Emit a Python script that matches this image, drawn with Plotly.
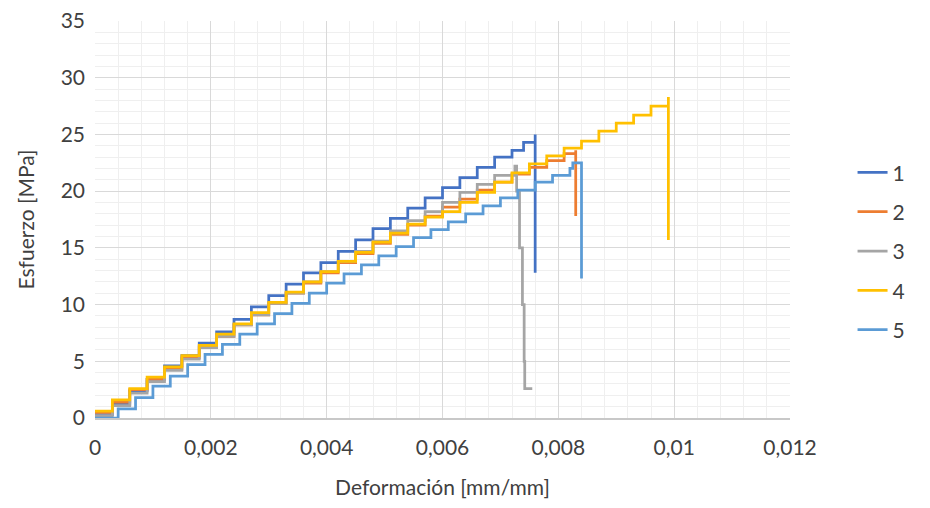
import plotly.graph_objects as go

# ---- data (strain [mm/mm], stress [MPa]) ----
x1 = [0, 0.0003, 0.0006, 0.0009, 0.0012, 0.0015, 0.0018, 0.0021, 0.0024, 0.0027, 0.0030,
      0.0033, 0.0036, 0.0039, 0.0042, 0.0045, 0.0048, 0.0051, 0.0054, 0.0057, 0.0060,
      0.0063, 0.0066, 0.0069, 0.0072, 0.0074, 0.0076, 0.0076]
y1 = [0.3, 1.2, 2.4, 3.4, 4.6, 5.5, 6.6, 7.6, 8.7, 9.8, 10.8,
      11.8, 12.8, 13.7, 14.7, 15.7, 16.7, 17.6, 18.5, 19.4, 20.3,
      21.2, 22.1, 23.0, 23.6, 24.3, 25.0, 12.8]

x2 = [0, 0.0003, 0.0006, 0.0009, 0.0012, 0.0015, 0.0018, 0.0021, 0.0024, 0.0027, 0.0030,
      0.0033, 0.0036, 0.0039, 0.0042, 0.0045, 0.0048, 0.0051, 0.0054, 0.0057, 0.0060,
      0.0063, 0.0066, 0.0069, 0.0072, 0.0075, 0.0078, 0.0081, 0.0083, 0.0083]
y2 = [0.5, 1.4, 2.5, 3.4, 4.3, 5.3, 6.3, 7.2, 8.2, 9.1, 10.1,
      11.0, 11.9, 12.8, 13.7, 14.5, 15.4, 16.2, 17.0, 17.8, 18.6,
      19.3, 20.1, 20.8, 21.5, 22.1, 22.7, 23.3, 23.6, 17.8]

x3 = [0, 0.0003, 0.0006, 0.0009, 0.0012, 0.0015, 0.0018, 0.0021, 0.0024, 0.0027, 0.0030,
      0.0033, 0.0036, 0.0039, 0.0042, 0.0045, 0.0048, 0.0051, 0.0054, 0.0057, 0.0060,
      0.0063, 0.0066, 0.0069, 0.00725, 0.00728, 0.00733, 0.00738, 0.00741, 0.00742, 0.00755]
y3 = [0.2, 1.1, 2.2, 3.2, 4.2, 5.2, 6.2, 7.2, 8.2, 9.1, 10.1,
      11.0, 12.0, 12.9, 13.8, 14.7, 15.6, 16.5, 17.4, 18.2, 19.0,
      19.9, 20.6, 21.4, 22.2, 20.0, 15.0, 10.0, 5.0, 2.6, 2.6]

x4 = [0, 0.0003, 0.0006, 0.0009, 0.0012, 0.0015, 0.0018, 0.0021, 0.0024, 0.0027, 0.0030,
      0.0033, 0.0036, 0.0039, 0.0042, 0.0045, 0.0048, 0.0051, 0.0054, 0.0057, 0.0060,
      0.0063, 0.0066, 0.0069, 0.0072, 0.0075, 0.0078, 0.0081, 0.0084, 0.0087, 0.0090,
      0.0093, 0.0096, 0.0099, 0.0099]
y4 = [0.6, 1.6, 2.6, 3.6, 4.5, 5.5, 6.4, 7.4, 8.3, 9.3, 10.2,
      11.1, 12.0, 12.9, 13.8, 14.6, 15.5, 16.3, 17.1, 17.7, 18.2,
      19.0, 19.9, 20.8, 21.6, 22.4, 23.1, 23.8, 24.4, 25.3, 26.0,
      26.7, 27.5, 28.3, 15.7]

x5 = [0, 0.0002, 0.0004, 0.0007, 0.0010, 0.0013, 0.0016, 0.0019, 0.0022, 0.0025, 0.0028,
      0.0031, 0.0034, 0.0037, 0.0040, 0.0043, 0.0046, 0.0049, 0.0052, 0.0055, 0.0058,
      0.0061, 0.0064, 0.0067, 0.0070, 0.0073, 0.0076, 0.0079, 0.0082, 0.00825, 0.0084, 0.0084]
y5 = [0, 0, 0.8, 1.8, 2.8, 3.7, 4.7, 5.6, 6.5, 7.4, 8.3,
      9.2, 10.1, 11.0, 11.9, 12.7, 13.5, 14.3, 15.1, 15.9, 16.6,
      17.3, 18.0, 18.7, 19.4, 20.1, 20.8, 21.4, 22.0, 22.5, 22.5, 12.3]

series_names = ["1", "2", "3", "4", "5"]
series_colors = ["#4472C4", "#ED7D31", "#A5A5A5", "#FFC000", "#5B9BD5"]
xs = [x1, x2, x3, x4, x5]
ys = [y1, y2, y3, y4, y5]

x_tickvals = [0, 0.002, 0.004, 0.006, 0.008, 0.010, 0.012]
x_ticktext = ["0", "0,002", "0,004", "0,006", "0,008", "0,01", "0,012"]
y_tickvals = [0, 5, 10, 15, 20, 25, 30, 35]

FONT = "Lato"
TXT = "#404040"

fig = go.Figure()
for name, col, xx, yy in zip(series_names, series_colors, xs, ys):
    fig.add_trace(go.Scatter(
        x=xx, y=yy, mode="lines", name=name, legendgroup=name,
        line=dict(color=col, width=2.75, shape="hv"),
    ))

fig.update_layout(
    width=922, height=500,
    margin=dict(l=87, r=140, t=13, b=90, autoexpand=False),
    paper_bgcolor="white", plot_bgcolor="white",
    font=dict(family=FONT, size=21, color=TXT),
    showlegend=True,
    legend=dict(
        x=1.09, xanchor="left", y=0.42, yanchor="middle",
        font=dict(family=FONT, size=21, color=TXT),
        tracegroupgap=9, bgcolor="rgba(0,0,0,0)",
    ),
    xaxis=dict(
        range=[0, 0.012], tickvals=x_tickvals, ticktext=x_ticktext,
        showgrid=True, gridcolor="#D9D9D9", gridwidth=1,
        minor=dict(dtick=0.0004, showgrid=True, gridcolor="#EFEFEF", gridwidth=1),
        showline=True, linecolor="#C8C8C8", linewidth=1.5,
        zeroline=False, ticks="", ticklabelstandoff=10, automargin=False,
        ticklabeloverflow="allow",
        title=dict(text="Deformación [mm/mm]", standoff=22,
                   font=dict(family=FONT, size=21, color=TXT)),
        tickfont=dict(family=FONT, size=21, color=TXT),
    ),
    yaxis=dict(
        range=[0, 35], tickvals=y_tickvals,
        showgrid=True, gridcolor="#D9D9D9", gridwidth=1,
        minor=dict(dtick=1, showgrid=True, gridcolor="#EFEFEF", gridwidth=1),
        showline=False, zeroline=False, ticks="", ticklabelstandoff=9, automargin=False,
        ticklabeloverflow="allow",
        title=dict(text="Esfuerzo [MPa]", standoff=20,
                   font=dict(family=FONT, size=21, color=TXT)),
        tickfont=dict(family=FONT, size=21, color=TXT),
    ),
)

fig.write_html("out.html")
